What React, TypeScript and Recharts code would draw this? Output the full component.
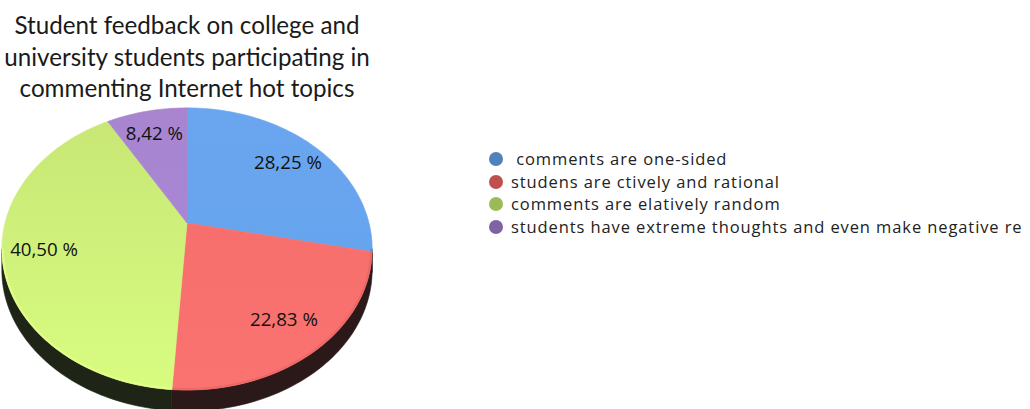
import React from 'react';
import { PieChart, Pie, Cell, Legend } from 'recharts';

const titleLines = [
  'Student feedback on college and',
  'university students participating in',
  'commenting Internet hot topics',
];
const categories = [
  ' comments are one-sided',
  'studens are ctively and rational',
  'comments are elatively random',
  'students have extreme thoughts and even make negative re',
];
const values = [28.25, 22.83, 40.5, 8.42];
const legendColors = ['#4f81bd', '#c0504d', '#9bbb59', '#8064a2'];
const topColorsA = ['#6aa6ee', '#f66f6c', '#c8e776', '#a985d0'];
const topColorsB = ['#67a4ef', '#fb7370', '#d8fc80', '#a886d3'];
const sideColors = ['#1c2a3c', '#2b1819', '#1f2516', '#261d2e'];
const rimColors = ['#5f8fcc', '#e86663', '#e4ff8c', '#9a7cc0'];

const data = categories.map((name, i) => ({ name, value: values[i], rim: rimColors[i] }));

const RAD = Math.PI / 180;
const K = -0.184;
const TILT = 0.749;
const DEPTH = 21;
const CX = 187;
const CY = 223;
const R = 182;

// visible rim range (recharts angle degrees)
const VIS_LO = -169.4;
const VIS_HI = -10.6;

function proj(cx: number, cy: number, r: number, deg: number, f = 1): [number, number] {
  const a = deg * RAD;
  const x = f * Math.cos(a);
  const z = -f * Math.sin(a);
  const w = 1 + K * z;
  return [cx + (r * x) / w, cy + (r * TILT * z) / w];
}

function arcPoints(cx: number, cy: number, r: number, from: number, to: number, dy = 0) {
  const n = Math.max(6, Math.ceil(Math.abs(to - from) / 1.5));
  const pts: string[] = [];
  for (let i = 0; i <= n; i++) {
    const d = from + ((to - from) * i) / n;
    const [x, y] = proj(cx, cy, r, d);
    pts.push(`${x.toFixed(2)},${(y + dy).toFixed(2)}`);
  }
  return pts;
}

const TopShape = (props: any) => {
  const { cx, cy, outerRadius, startAngle, endAngle, fill, payload } = props;
  const pts = arcPoints(cx, cy, outerRadius, startAngle, endAngle);
  const d = `M${cx},${cy} L${pts.join(' L')} Z`;
  const rim = (payload && payload.rim) || props.rim;
  const lo = Math.max(Math.min(startAngle, endAngle), VIS_LO);
  const hi = Math.min(Math.max(startAngle, endAngle), VIS_HI);
  const rimPts = lo < hi ? arcPoints(cx, cy, outerRadius - 1, hi, lo) : null;
  return (
    <g>
      <path d={d} fill={fill} stroke={fill} strokeWidth={0.6} />
      {rim && rimPts ? (
        <path d={`M${rimPts.join(' L')}`} fill="none" stroke={rim} strokeWidth={2.2} strokeOpacity={0.8} />
      ) : null}
    </g>
  );
};

const SideShape = (props: any) => {
  const { cx, cy, outerRadius, startAngle, endAngle, fill } = props;
  const lo = Math.max(Math.min(startAngle, endAngle), VIS_LO);
  const hi = Math.min(Math.max(startAngle, endAngle), VIS_HI);
  if (!(lo < hi)) return <g />;
  const top = arcPoints(cx, cy, outerRadius, hi, lo);
  const bottom = arcPoints(cx, cy, outerRadius, lo, hi, DEPTH);
  const d = `M${top.join(' L')} L${bottom.join(' L')} Z`;
  return <path d={d} fill={fill} stroke={fill} strokeWidth={0.6} />;
};

const renderLabel = (props: any) => {
  const { cx, cy, outerRadius, midAngle, value } = props;
  const [x, y] = proj(cx, cy, outerRadius, midAngle, 0.78);
  const txt = Number(value).toFixed(2).replace('.', ',') + ' %';
  return (
    <text
      x={x}
      y={y}
      textAnchor="middle"
      dominantBaseline="central"
      fill="#111"
      fontSize={18.7}
      fontFamily="'Open Sans', sans-serif"
    >
      {txt}
    </text>
  );
};

const renderLegend = (props: any) => {
  const payload = (props.payload || [])
    .filter((p: any) => p.type !== 'none' && categories.indexOf(p.value) >= 0)
    .slice()
    .sort((a: any, b: any) => categories.indexOf(a.value) - categories.indexOf(b.value));
  return (
    <div
      style={{
        fontFamily: "'Open Sans', sans-serif",
        fontSize: 16.5,
        letterSpacing: 0.9,
        lineHeight: '22px',
        color: '#222',
      }}
    >
      {payload.map((p: any, i: number) => (
        <div key={i} style={{ display: 'flex', alignItems: 'center', height: 22.5, whiteSpace: 'pre' }}>
          <span
            style={{
              display: 'inline-block',
              width: 14,
              height: 14,
              borderRadius: 7,
              background: legendColors[categories.indexOf(p.value)],
              marginRight: 8,
              flex: '0 0 auto',
            }}
          />
          <span>{p.value}</span>
        </div>
      ))}
    </div>
  );
};

export default function App() {
  return (
    <div
      style={{
        position: 'absolute',
        left: 0,
        top: 0,
        width: 1030,
        height: 409,
        overflow: 'hidden',
        background: '#fff',
      }}
    >
      <PieChart width={1030} height={409} margin={{ top: 0, right: 0, bottom: 0, left: 0 }}>
        <defs>
          {topColorsA.map((c, i) => (
            <linearGradient key={i} id={`topGrad${i}`} x1="0" y1="0" x2="0" y2="1">
              <stop offset="0%" stopColor={c} />
              <stop offset="100%" stopColor={topColorsB[i]} />
            </linearGradient>
          ))}
        </defs>
        <Pie
          data={data}
          dataKey="value"
          nameKey="name"
          cx={CX}
          cy={CY}
          outerRadius={R}
          startAngle={90}
          endAngle={-270}
          isAnimationActive={false}
          legendType="none"
          shape={SideShape}
          stroke="none"
        >
          {data.map((_, i) => (
            <Cell key={i} fill={sideColors[i]} />
          ))}
        </Pie>
        <Pie
          data={data}
          dataKey="value"
          nameKey="name"
          cx={CX}
          cy={CY}
          outerRadius={R}
          startAngle={90}
          endAngle={-270}
          isAnimationActive={false}
          shape={TopShape}
          label={renderLabel}
          labelLine={false}
          stroke="none"
        >
          {data.map((_, i) => (
            <Cell key={i} fill={`url(#topGrad${i})`} />
          ))}
        </Pie>
        <Legend
          layout="vertical"
          verticalAlign="top"
          align="right"
          wrapperStyle={{ left: 489, top: 148, width: 560, right: 'auto' }}
          content={renderLegend}
        />
      </PieChart>
      <div
        style={{
          position: 'absolute',
          left: 0,
          top: 9,
          width: 374,
          textAlign: 'center',
          fontFamily: "Lato, 'Open Sans', sans-serif",
          fontSize: 24.2,
          lineHeight: '31.5px',
          color: '#1a1a1a',
        }}
      >
        {titleLines.map((t, i) => (
          <div key={i}>{t}</div>
        ))}
      </div>
    </div>
  );
}
